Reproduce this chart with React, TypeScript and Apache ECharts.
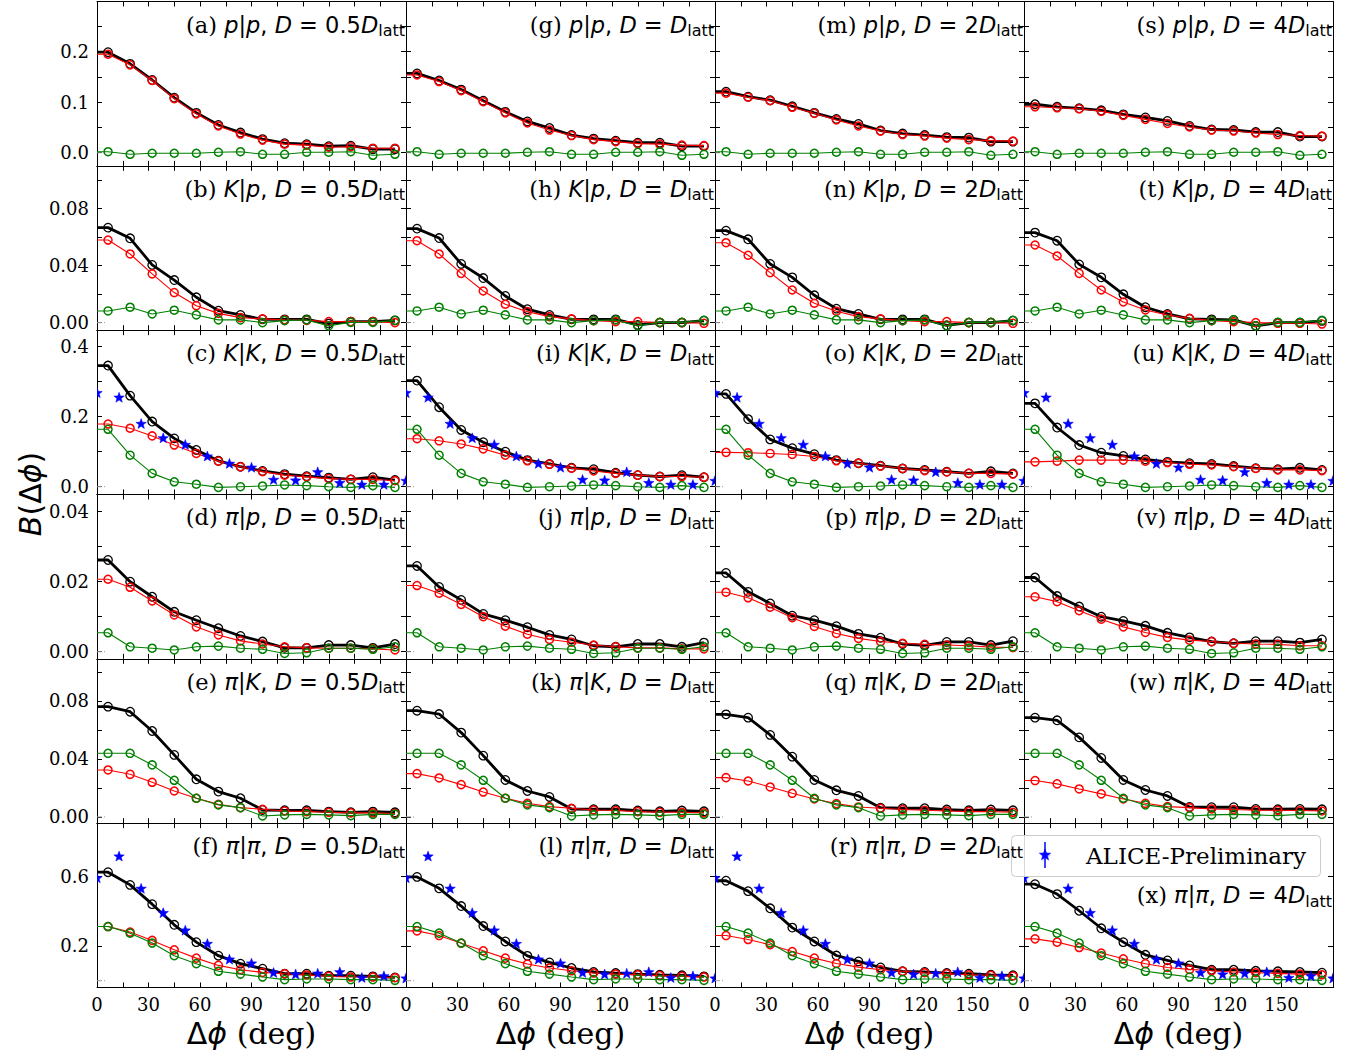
import React, { useEffect, useRef } from "react";
import * as echarts from "echarts";

// ---------- axes / categories ----------
const PHI = [6.43, 19.29, 32.14, 45.0, 57.86, 70.71, 83.57, 96.43, 109.29, 122.14, 135.0, 147.86, 160.71, 173.57];
const ALICE_PHI = [0, 12.86, 25.71, 38.57, 51.43, 64.29, 77.14, 90.0, 102.86, 115.71, 128.57, 141.43, 154.29, 167.14, 180.0];

const D_FACTORS = ["0.5", "", "2", "4"];
const PAIRS = [["p", "p"], ["K", "p"], ["K", "K"], ["π", "p"], ["π", "K"], ["π", "π"]];

const X_TICKS = [0, 15, 30, 45, 60, 75, 90, 105, 120, 135, 150, 165, 180];
const X_LABELS = [0, 30, 60, 90, 120, 150];
const Y_TICKS = [
  [0, 0.05, 0.1, 0.15, 0.2, 0.25],
  [0, 0.02, 0.04, 0.06, 0.08, 0.1],
  [0, 0.1, 0.2, 0.3, 0.4],
  [0, 0.01, 0.02, 0.03, 0.04],
  [0, 0.02, 0.04, 0.06, 0.08, 0.1],
  [0.2, 0.6],
];
const Y_LABELS = [
  [0, 0.1, 0.2],
  [0, 0.04, 0.08],
  [0, 0.2, 0.4],
  [0, 0.02, 0.04],
  [0, 0.04, 0.08],
  [0.2, 0.6],
];
const Y_DECIMALS = [1, 2, 1, 2, 2, 1];
const Y_MIN = [-0.0259, -0.0053, -0.0223, -0.00203, -0.00428, -0.0392];
const Y_MAX = [0.2994, 0.1101, 0.4471, 0.04491, 0.1091, 0.9078];

// ---------- p|p ----------
const ppGreen = [0.002, -0.003, -0.001, -0.001, -0.001, 0.001, 0.002, -0.003, -0.003, 0.001, 0.001, 0.002, -0.005, -0.003];
const ppBlack05 = [0.199, 0.176, 0.144, 0.109, 0.079, 0.055, 0.04, 0.027, 0.019, 0.017, 0.013, 0.014, 0.007, 0.007];
const ppRed05 = [0.195, 0.174, 0.143, 0.107, 0.077, 0.053, 0.037, 0.025, 0.017, 0.015, 0.011, 0.012, 0.009, 0.009];
const ppBlack1 = [0.157, 0.143, 0.125, 0.103, 0.081, 0.062, 0.049, 0.035, 0.028, 0.024, 0.02, 0.02, 0.013, 0.013];
const ppRed1 = [0.154, 0.141, 0.123, 0.101, 0.079, 0.059, 0.045, 0.034, 0.026, 0.022, 0.018, 0.017, 0.015, 0.014];
const ppBlack2 = [0.121, 0.111, 0.104, 0.092, 0.079, 0.067, 0.057, 0.044, 0.038, 0.035, 0.031, 0.03, 0.022, 0.022];
const ppRed2 = [0.118, 0.11, 0.103, 0.09, 0.078, 0.065, 0.053, 0.043, 0.036, 0.033, 0.029, 0.026, 0.024, 0.023];
const ppBlack4 = [0.096, 0.091, 0.088, 0.084, 0.076, 0.07, 0.063, 0.053, 0.046, 0.045, 0.041, 0.041, 0.032, 0.032];
const ppRed4 = [0.091, 0.089, 0.087, 0.082, 0.074, 0.066, 0.058, 0.051, 0.045, 0.043, 0.039, 0.036, 0.034, 0.033];

// ---------- K|p ----------
const kpGreen = [0.0082, 0.0108, 0.0061, 0.0087, 0.0054, 0.0019, 0.0019, 0.0, 0.0014, 0.0019, -0.0023, 0.0002, 0.0002, 0.0016];
const kpBlack05 = [0.0667, 0.0592, 0.0405, 0.0299, 0.0178, 0.0084, 0.0054, 0.0023, 0.0023, 0.0023, -0.0007, 0.0007, 0.0007, 0.0016];
const kpRed05 = [0.058, 0.0482, 0.0342, 0.0211, 0.0119, 0.0065, 0.0035, 0.0026, 0.0019, 0.0016, 0.0007, 0.0007, 0.0007, 0.0];
const kpBlack1 = [0.066, 0.0594, 0.0412, 0.0313, 0.0187, 0.0094, 0.0054, 0.0023, 0.0023, 0.0023, -0.0016, 0.0, 0.0, 0.0014];
const kpRed1 = [0.0575, 0.0482, 0.0346, 0.0222, 0.0129, 0.0077, 0.0042, 0.0026, 0.0014, 0.0007, 0.0007, 0.0, 0.0, -0.0005];
const kpBlack2 = [0.0646, 0.0585, 0.0412, 0.0318, 0.0192, 0.0098, 0.0061, 0.0023, 0.0023, 0.0023, -0.0019, 0.0, 0.0, 0.0014];
const kpRed2 = [0.0561, 0.0473, 0.0351, 0.0229, 0.0136, 0.008, 0.0042, 0.0026, 0.0014, 0.0007, 0.0007, 0.0, 0.0, -0.0005];
const kpBlack4 = [0.0632, 0.0575, 0.0409, 0.0318, 0.0199, 0.0108, 0.0061, 0.0026, 0.0023, 0.0019, -0.0023, 0.0, 0.0, 0.0012];
const kpRed4 = [0.0545, 0.0468, 0.0346, 0.0229, 0.0145, 0.0089, 0.0054, 0.003, 0.0014, 0.0007, 0.0, -0.0005, -0.0005, -0.001];

// ---------- K|K ----------
const kkGreen = [0.164, 0.09, 0.038, 0.014, 0.007, -0.002, 0.0, 0.002, 0.005, 0.003, 0.0, -0.002, 0.003, -0.002];
const kkBlack05 = [0.346, 0.26, 0.186, 0.138, 0.105, 0.074, 0.057, 0.045, 0.036, 0.03, 0.026, 0.021, 0.027, 0.019];
const kkRed05 = [0.179, 0.167, 0.145, 0.119, 0.095, 0.073, 0.057, 0.043, 0.033, 0.028, 0.023, 0.021, 0.021, 0.017];
const kkBlack1 = [0.303, 0.227, 0.162, 0.127, 0.1, 0.076, 0.065, 0.054, 0.05, 0.04, 0.033, 0.029, 0.033, 0.027];
const kkRed1 = [0.137, 0.131, 0.122, 0.108, 0.09, 0.074, 0.064, 0.053, 0.045, 0.038, 0.033, 0.029, 0.029, 0.027];
const kkBlack2 = [0.265, 0.193, 0.135, 0.11, 0.093, 0.076, 0.067, 0.06, 0.052, 0.048, 0.043, 0.038, 0.044, 0.038];
const kkRed2 = [0.098, 0.097, 0.095, 0.092, 0.086, 0.074, 0.067, 0.059, 0.052, 0.046, 0.042, 0.038, 0.038, 0.036];
const kkBlack4 = [0.238, 0.169, 0.119, 0.097, 0.088, 0.078, 0.071, 0.067, 0.065, 0.059, 0.053, 0.05, 0.054, 0.048];
const kkRed4 = [0.071, 0.073, 0.076, 0.076, 0.076, 0.073, 0.069, 0.064, 0.062, 0.057, 0.052, 0.048, 0.048, 0.046];
const kkAlice = [0.267, 0.254, 0.179, 0.138, 0.119, 0.086, 0.065, 0.054, 0.019, 0.017, 0.041, 0.01, 0.005, 0.005, 0.016];

// ---------- π|p ----------
const pipGreen = [0.0054, 0.0014, 0.001, 0.0005, 0.0014, 0.0016, 0.001, 0.0007, -0.0005, -0.0003, 0.001, 0.001, 0.0007, 0.0014];
const pipBlack05 = [0.0262, 0.02, 0.0157, 0.0114, 0.009, 0.0067, 0.0045, 0.0029, 0.0011, 0.0011, 0.0019, 0.0019, 0.0011, 0.0022];
const pipRed05 = [0.0207, 0.0184, 0.0145, 0.0105, 0.0071, 0.0048, 0.0031, 0.0022, 0.0014, 0.0011, 0.001, 0.001, 0.0008, 0.0005];
const pipBlack1 = [0.0245, 0.0185, 0.0148, 0.0108, 0.009, 0.007, 0.0048, 0.0035, 0.0017, 0.0014, 0.0022, 0.0022, 0.0014, 0.0026];
const pipRed1 = [0.0189, 0.0167, 0.0135, 0.01, 0.0073, 0.005, 0.0035, 0.0027, 0.0019, 0.0014, 0.0011, 0.0011, 0.0008, 0.0008];
const pipBlack2 = [0.0225, 0.0171, 0.0138, 0.0103, 0.009, 0.0073, 0.0051, 0.004, 0.0022, 0.0018, 0.0028, 0.0028, 0.0019, 0.003];
const pipRed2 = [0.017, 0.0154, 0.0127, 0.0097, 0.0072, 0.0052, 0.0038, 0.0029, 0.0024, 0.0021, 0.0019, 0.0017, 0.0013, 0.0012];
const pipBlack4 = [0.0212, 0.0159, 0.0129, 0.01, 0.0088, 0.0074, 0.0054, 0.0041, 0.0029, 0.0024, 0.003, 0.003, 0.0026, 0.0035];
const pipRed4 = [0.0157, 0.0143, 0.0117, 0.0093, 0.0071, 0.0055, 0.0041, 0.0033, 0.0029, 0.0024, 0.0022, 0.0021, 0.0017, 0.0017];

// ---------- π|K ----------
const piKGreen = [0.0439, 0.0439, 0.0359, 0.0253, 0.0129, 0.0083, 0.0064, 0.0007, 0.0014, 0.0018, 0.0014, 0.0009, 0.0018, 0.0018];
const piKBlack05 = [0.0761, 0.0726, 0.0593, 0.0428, 0.026, 0.0175, 0.0129, 0.0048, 0.0046, 0.0046, 0.0037, 0.0032, 0.0037, 0.0032];
const piKRed05 = [0.0324, 0.0294, 0.0239, 0.0179, 0.0129, 0.0087, 0.0064, 0.0053, 0.0041, 0.0037, 0.0032, 0.0028, 0.0028, 0.0023];
const piKBlack1 = [0.0733, 0.071, 0.0582, 0.0423, 0.0255, 0.0179, 0.0138, 0.0055, 0.0053, 0.0053, 0.0044, 0.0039, 0.0044, 0.0039];
const piKRed1 = [0.0299, 0.0269, 0.0223, 0.0172, 0.0129, 0.0094, 0.0071, 0.006, 0.0048, 0.0044, 0.0037, 0.0032, 0.0032, 0.0028];
const piKBlack2 = [0.0708, 0.0685, 0.0566, 0.0416, 0.0255, 0.0184, 0.0145, 0.0064, 0.006, 0.006, 0.0051, 0.0046, 0.0051, 0.0046];
const piKRed2 = [0.0271, 0.0248, 0.0207, 0.0163, 0.0124, 0.0092, 0.0069, 0.006, 0.0051, 0.0046, 0.0041, 0.0037, 0.0037, 0.0032];
const piKBlack4 = [0.0685, 0.0667, 0.0549, 0.0407, 0.0255, 0.0186, 0.0145, 0.0069, 0.0067, 0.0067, 0.0055, 0.0053, 0.0055, 0.0053];
const piKRed4 = [0.0251, 0.0228, 0.0193, 0.0159, 0.0124, 0.0094, 0.0071, 0.0064, 0.0055, 0.0051, 0.0046, 0.0046, 0.0044, 0.0041];

// ---------- π|π ----------
const pipiGreen = [0.312, 0.274, 0.217, 0.144, 0.098, 0.054, 0.038, 0.021, 0.006, 0.01, 0.01, 0.006, 0.006, 0.002];
const pipiBlack05 = [0.625, 0.552, 0.441, 0.322, 0.222, 0.144, 0.098, 0.069, 0.04, 0.04, 0.029, 0.029, 0.025, 0.019];
const pipiRed05 = [0.312, 0.28, 0.232, 0.178, 0.13, 0.088, 0.063, 0.048, 0.04, 0.033, 0.025, 0.021, 0.021, 0.017];
const pipiBlack1 = [0.598, 0.532, 0.43, 0.315, 0.226, 0.143, 0.105, 0.073, 0.05, 0.044, 0.038, 0.034, 0.031, 0.025];
const pipiRed1 = [0.287, 0.26, 0.216, 0.172, 0.13, 0.096, 0.073, 0.057, 0.044, 0.038, 0.034, 0.029, 0.025, 0.021];
const pipiBlack2 = [0.576, 0.516, 0.417, 0.306, 0.226, 0.145, 0.111, 0.076, 0.054, 0.05, 0.044, 0.04, 0.034, 0.031];
const pipiRed2 = [0.26, 0.237, 0.207, 0.168, 0.13, 0.099, 0.078, 0.063, 0.054, 0.046, 0.04, 0.034, 0.031, 0.027];
const pipiBlack4 = [0.556, 0.499, 0.403, 0.302, 0.222, 0.149, 0.117, 0.088, 0.063, 0.063, 0.057, 0.054, 0.05, 0.046];
const pipiRed4 = [0.241, 0.222, 0.191, 0.159, 0.126, 0.098, 0.076, 0.065, 0.057, 0.05, 0.046, 0.042, 0.038, 0.034];
const pipiAlice = [0.59, 0.715, 0.529, 0.389, 0.288, 0.211, 0.121, 0.098, 0.044, 0.035, 0.04, 0.048, 0.015, 0.025, 0.012];

const ROWS = [
  { black: [ppBlack05, ppBlack1, ppBlack2, ppBlack4], red: [ppRed05, ppRed1, ppRed2, ppRed4], green: ppGreen, alice: null },
  { black: [kpBlack05, kpBlack1, kpBlack2, kpBlack4], red: [kpRed05, kpRed1, kpRed2, kpRed4], green: kpGreen, alice: null },
  { black: [kkBlack05, kkBlack1, kkBlack2, kkBlack4], red: [kkRed05, kkRed1, kkRed2, kkRed4], green: kkGreen, alice: kkAlice },
  { black: [pipBlack05, pipBlack1, pipBlack2, pipBlack4], red: [pipRed05, pipRed1, pipRed2, pipRed4], green: pipGreen, alice: null },
  { black: [piKBlack05, piKBlack1, piKBlack2, piKBlack4], red: [piKRed05, piKRed1, piKRed2, piKRed4], green: piKGreen, alice: null },
  { black: [pipiBlack05, pipiBlack1, pipiBlack2, pipiBlack4], red: [pipiRed05, pipiRed1, pipiRed2, pipiRed4], green: pipiGreen, alice: pipiAlice },
];

const SERIF = '"DejaVu Serif", serif';
const SANS = '"DejaVu Sans", sans-serif';

function starPoints(cx: number, cy: number, R: number, r: number) {
  const pts: number[][] = [];
  for (let k = 0; k < 10; k++) {
    const a = -Math.PI / 2 + (k * Math.PI) / 5;
    const rad = k % 2 === 0 ? R : r;
    pts.push([cx + rad * Math.cos(a), cy + rad * Math.sin(a)]);
  }
  return pts;
}

function buildOption() {
  const LEFT0 = 97, W = 309, TOP0 = 1.5, H = 164.33;
  const grids: any[] = [], xAxes: any[] = [], yAxes: any[] = [], series: any[] = [], graphic: any[] = [];
  const lineBlack = { color: "#000", width: 1 };
  const TF = 22.5;

  const titleRich = {
    s: { fontFamily: SERIF, fontSize: TF, lineHeight: 28, fill: "#000" },
    i: { fontFamily: SANS, fontStyle: "italic", fontSize: TF, lineHeight: 28, fill: "#000" },
    n: { fontFamily: SANS, fontSize: TF, lineHeight: 28, fill: "#000" },
    b: { fontFamily: SANS, fontSize: 16, lineHeight: 13, verticalAlign: "bottom", fill: "#000" },
  };

  for (let r = 0; r < 6; r++) {
    for (let c = 0; c < 4; c++) {
      const g = r * 4 + c;
      const left = LEFT0 + W * c;
      const top = TOP0 + H * r;
      grids.push({ left, top, width: W, height: H, containLabel: false, show: false });
      const xl = { show: true, onZero: false, lineStyle: lineBlack };
      xAxes.push({
        gridIndex: g, type: "value", position: "bottom", min: 0, max: 180,
        axisLine: xl,
        axisTick: { show: true, inside: true, length: 5, customValues: X_TICKS, lineStyle: lineBlack },
        axisLabel: { show: r === 5, customValues: X_LABELS, margin: 8, fontFamily: SERIF, fontSize: 18, color: "#000" },
        splitLine: { show: false },
      });
      xAxes.push({
        gridIndex: g, type: "value", position: "top", min: 0, max: 180,
        axisLine: xl,
        axisTick: { show: true, inside: true, length: 5, customValues: X_TICKS, lineStyle: lineBlack },
        axisLabel: { show: false },
        splitLine: { show: false },
      });
      const dec = Y_DECIMALS[r];
      yAxes.push({
        gridIndex: g, type: "value", position: "left", min: Y_MIN[r], max: Y_MAX[r],
        axisLine: xl,
        axisTick: { show: true, inside: true, length: 5, customValues: Y_TICKS[r], lineStyle: lineBlack },
        axisLabel: {
          show: c === 0, customValues: Y_LABELS[r], margin: 8, fontFamily: SERIF, fontSize: 18, color: "#000",
          formatter: (v: number) => Number(v).toFixed(dec),
        },
        splitLine: { show: false },
      });
      yAxes.push({
        gridIndex: g, type: "value", position: "right", min: Y_MIN[r], max: Y_MAX[r],
        axisLine: xl,
        axisTick: { show: true, inside: true, length: 5, customValues: Y_TICKS[r], lineStyle: lineBlack },
        axisLabel: { show: false },
        splitLine: { show: false },
      });
      const xi = 2 * g, yi = 2 * g;
      const row = ROWS[r];

      // short grey dash-dot reference mark at y = 0 near the left edge
      series.push({
        type: "line", xAxisIndex: xi, yAxisIndex: yi, silent: true, z: 1,
        data: [[0, 0], [5, 0]], symbol: "none",
        lineStyle: { color: "#999999", width: 1, type: [5, 2, 1, 2] },
      });

      const mk = (vals: number[], color: string, width: number, size: number, bw: number, z: number) => ({
        type: "line", xAxisIndex: xi, yAxisIndex: yi, silent: true, z,
        data: [{ value: [0, vals[0]], symbol: "none" }, ...PHI.map((x, i) => [x, vals[i]])],
        symbol: "circle", symbolSize: size, showSymbol: true,
        itemStyle: { color: "rgba(0,0,0,0)", borderColor: color, borderWidth: bw },
        lineStyle: { color, width },
      });
      series.push(mk(row.black[c], "#000000", 2.8, 8.5, 1.3, 3));
      series.push(mk(row.red[c], "#ff0000", 1.1, 8, 1.5, 4));
      series.push(mk(row.green, "#008000", 1.1, 8, 1.5, 5));

      if (row.alice) {
        const al = row.alice;
        series.push({
          type: "custom", xAxisIndex: xi, yAxisIndex: yi, silent: true, z: 6, clip: true,
          data: ALICE_PHI.map((x, i) => [x, al[i]]),
          encode: { x: 0, y: 1 },
          renderItem: (params: any, api: any) => {
            const p = api.coord([api.value(0), api.value(1)]);
            return {
              type: "polygon",
              shape: { points: starPoints(p[0], p[1], 5.5, 2.3) },
              style: { fill: "#0000ff", stroke: "#0000ff", lineWidth: 0.5 },
            };
          },
        });
      }

      // panel title
      const letter = String.fromCharCode(97 + c * 6 + r);
      const pr = PAIRS[r];
      const df = D_FACTORS[c];
      const txt = `{s|(${letter}) }{i|${pr[0]}}{n||}{i|${pr[1]}}{n|, }{i|D}{n| = ${df}}{i|D}{b|latt}`;
      const ty = r === 5 && c === 3 ? top + 72 : top + 23;
      graphic.push({
        type: "text", x: left + W - 1, y: ty, z: 100,
        style: {
          text: txt, rich: titleRich,
          align: "right", textAlign: "right", verticalAlign: "middle", textVerticalAlign: "middle",
        },
      });
    }
  }

  // x axis titles
  for (let c = 0; c < 4; c++) {
    graphic.push({
      type: "text", x: 97 + 309 * c + 154.5, y: 1033, z: 100,
      style: {
        text: "{n|Δ}{i|ϕ}{s| (deg)}",
        rich: {
          n: { fontFamily: SANS, fontSize: 30, fill: "#000" },
          i: { fontFamily: SANS, fontStyle: "italic", fontSize: 30, fill: "#000" },
          s: { fontFamily: SERIF, fontSize: 30, fill: "#000" },
        },
        align: "center", textAlign: "center", verticalAlign: "middle", textVerticalAlign: "middle",
      },
    });
  }
  // y axis title
  graphic.push({
    type: "text", x: 30, y: 494, rotation: Math.PI / 2, z: 100,
    style: {
      text: "{i|B}{n|(Δ}{i|ϕ}{n|)}",
      rich: {
        n: { fontFamily: SANS, fontSize: 30, fill: "#000" },
        i: { fontFamily: SANS, fontStyle: "italic", fontSize: 30, fill: "#000" },
      },
      align: "center", textAlign: "center", verticalAlign: "middle", textVerticalAlign: "middle",
    },
  });

  // legend
  graphic.push({
    type: "rect", z: 90,
    shape: { x: 1011.5, y: 835.5, width: 309, height: 41, r: 4 },
    style: { fill: "rgba(255,255,255,0.85)", stroke: "#cccccc", lineWidth: 1 },
  });
  graphic.push({
    type: "line", z: 91,
    shape: { x1: 1045, y1: 842, x2: 1045, y2: 868 },
    style: { stroke: "#0000ff", lineWidth: 1.5 },
  });
  graphic.push({
    type: "polygon", z: 92,
    shape: { points: starPoints(1045, 855, 6, 2.5) },
    style: { fill: "#0000ff", stroke: "#0000ff", lineWidth: 0.5 },
  });
  graphic.push({
    type: "text", x: 1086, y: 856, z: 93,
    style: {
      text: "ALICE-Preliminary", font: `23px ${SERIF}`, fill: "#000",
      align: "left", textAlign: "left", verticalAlign: "middle", textVerticalAlign: "middle",
    },
  });

  return {
    animation: false,
    backgroundColor: "#ffffff",
    grid: grids,
    xAxis: xAxes,
    yAxis: yAxes,
    series,
    graphic: { elements: graphic },
  };
}

export default function App() {
  const ref = useRef<HTMLDivElement>(null);
  useEffect(() => {
    if (!ref.current) return;
    const chart = echarts.init(ref.current, undefined, { renderer: "svg" });
    chart.setOption(buildOption() as any);
    return () => chart.dispose();
  }, []);
  return (
    <div
      ref={ref}
      style={{ position: "fixed", left: 0, top: 0, width: 1364, height: 1057, background: "#fff" }}
    />
  );
}
